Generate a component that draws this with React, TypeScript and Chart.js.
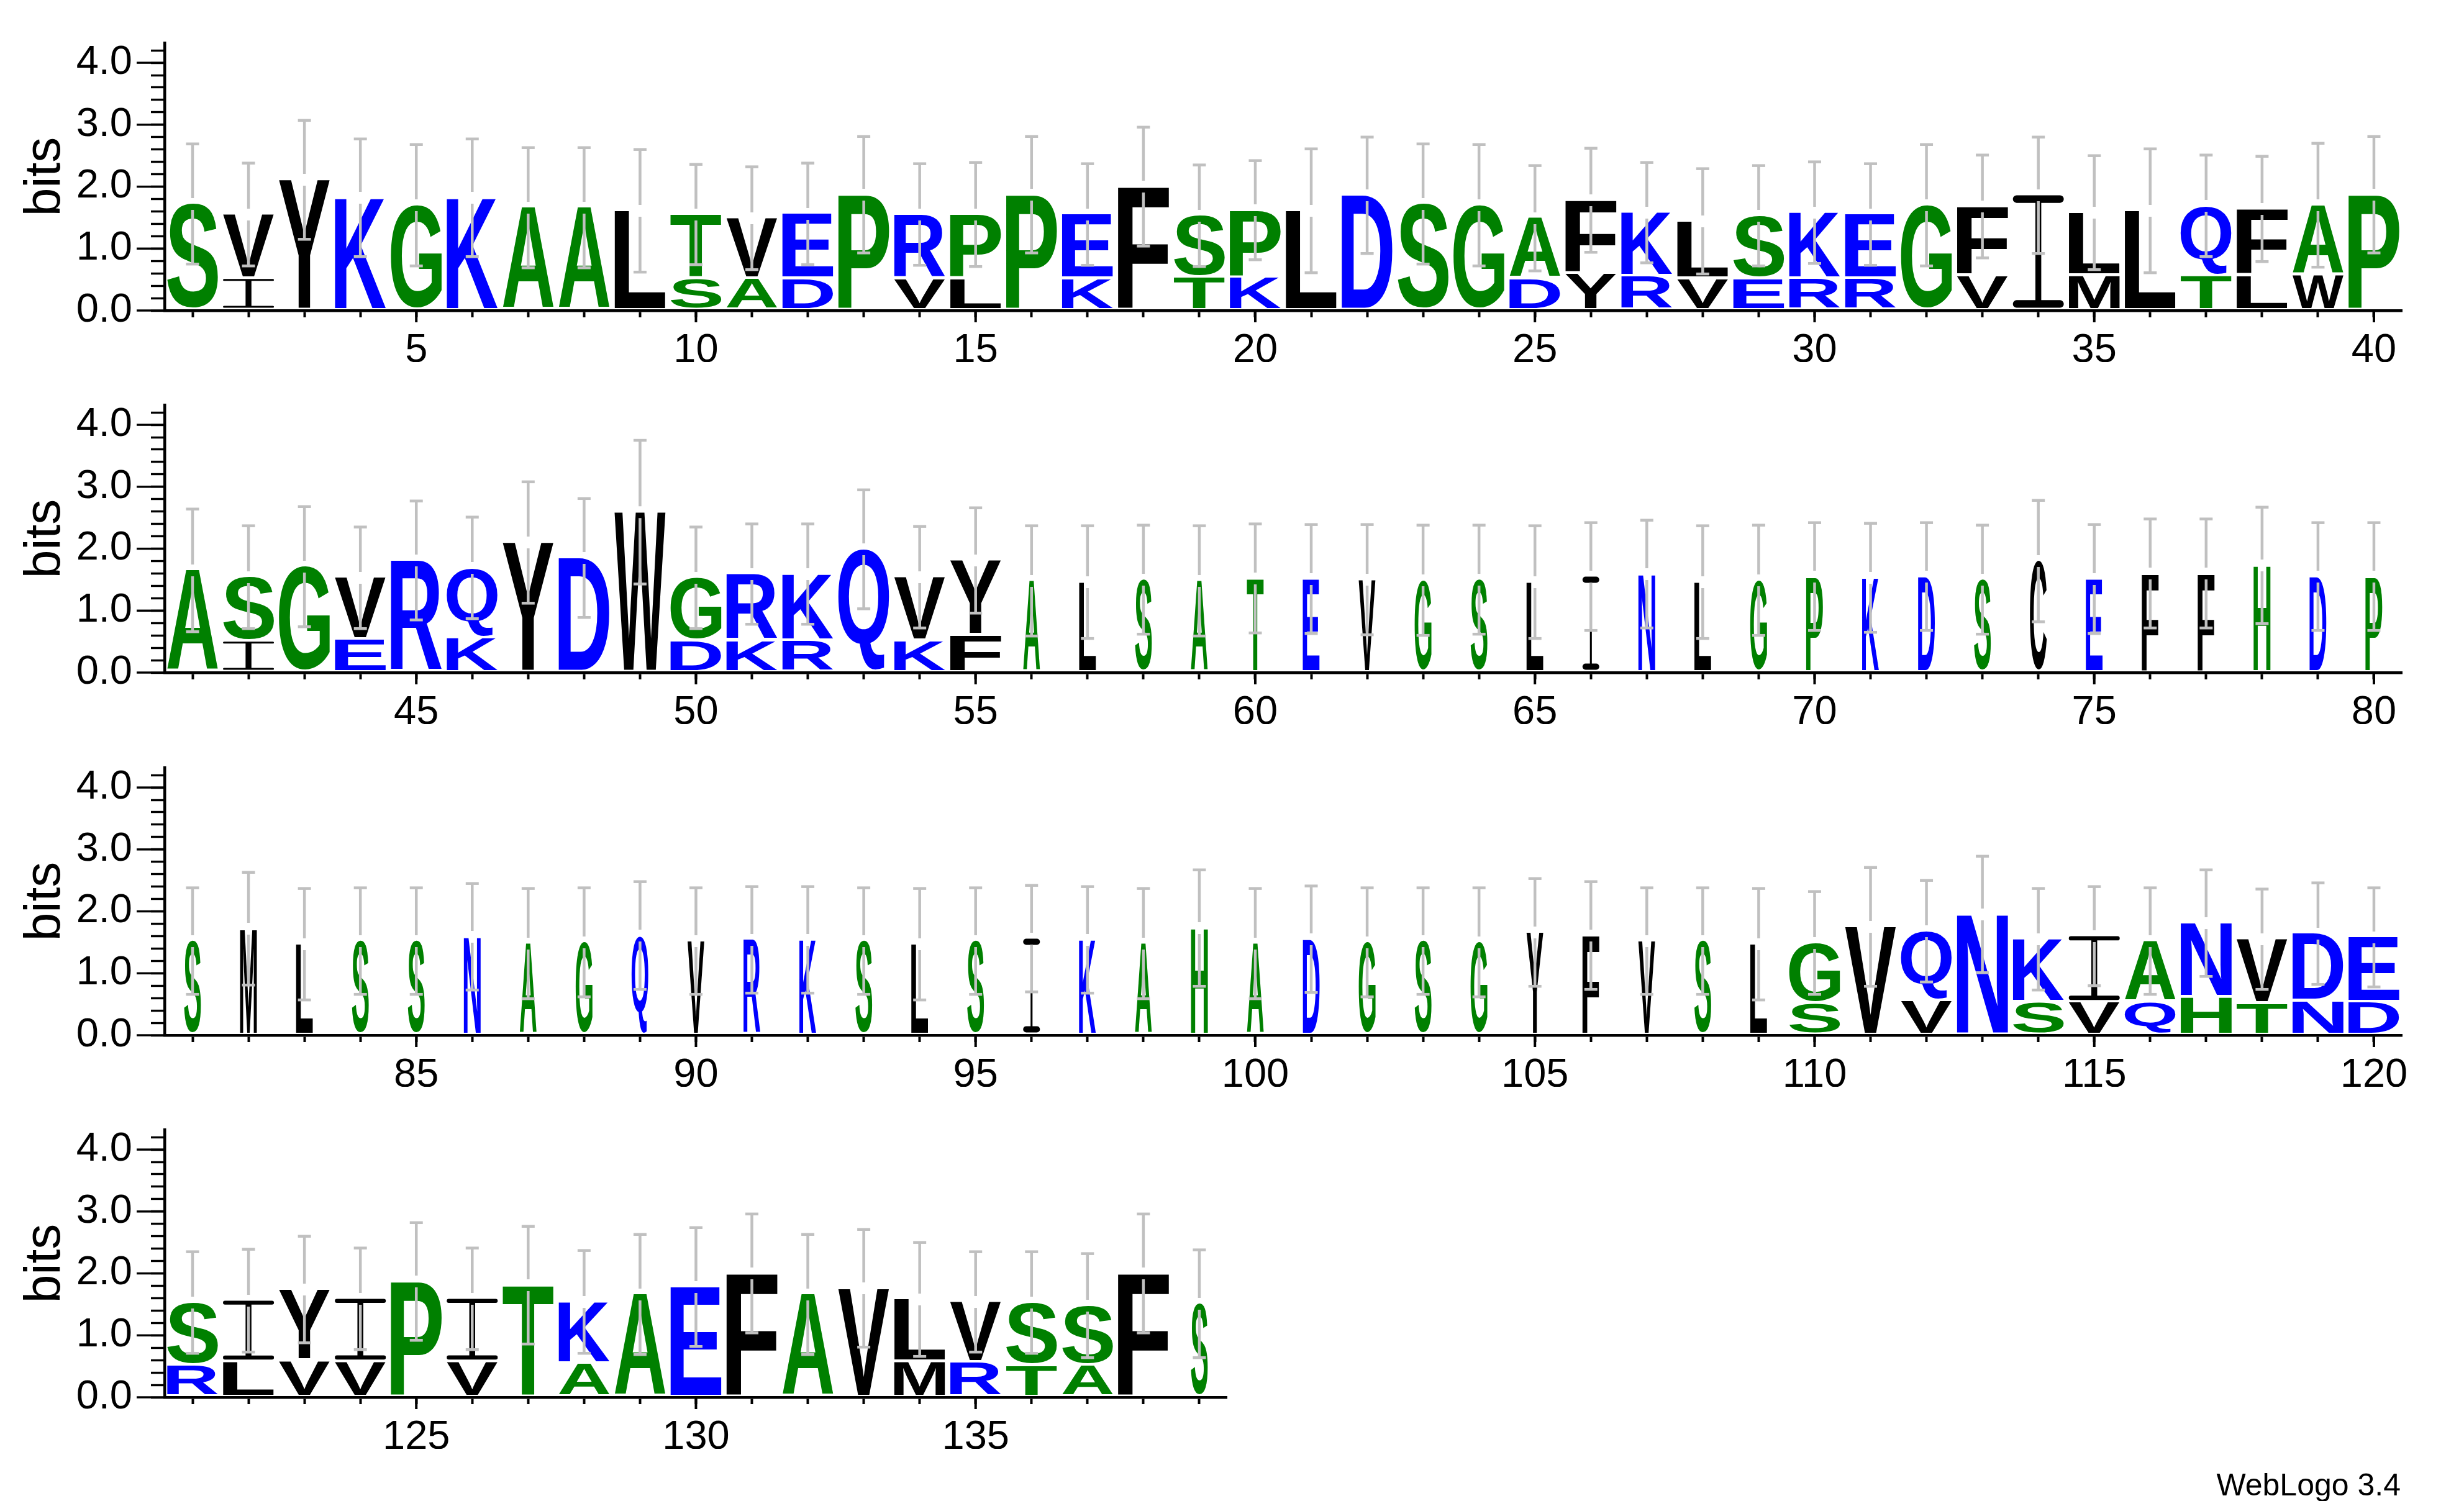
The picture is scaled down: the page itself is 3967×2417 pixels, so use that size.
import React, { useEffect, useRef } from "react";
import { Chart, registerables } from "chart.js";

Chart.register(...registerables);

// ---------------- DATA ----------------
// Rows of the logo (sequence positions)
const rowStarts = [1, 41, 81, 121];
const rowEnds = [40, 80, 120, 139];

// Top letter of each stack (one char per position)
const upperLetters =
  "SVYKGKAALTVEPRPPEFSPLDSGAFKLSKEGFILLQFAP" +
  "ASGVRQYDWGRKQVYALSATEVGSLINLGPKDSCEFFHDP" +
  "SMLSSNAGQVRKSLSIKAHADGSGYFVSLGVQNKIANVDE" +
  "SIYIPITKAEFAVLVSSFS";

// Lower letter of each stack ("." = none)
const lowerLetters =
  ".I.......SAD.VL.K.TK....DYRVERR.V.M.TLW." +
  ".I.E.K...DKR.KF........................." +
  ".............................S.V.SVQHTND" +
  "RLVV.V.A.....MRTA..";

// Height (bits) of the lower letter
const lowerBits = [
  0, 0.51, 0, 0, 0, 0, 0, 0, 0, 0.51,
  0.51, 0.51, 0, 0.51, 0.51, 0, 0.51, 0, 0.53, 0.53,
  0, 0, 0, 0, 0.51, 0.6, 0.55, 0.51, 0.51, 0.51,
  0.51, 0, 0.56, 0, 0.56, 0, 0.56, 0.56, 0.57, 0,
  0, 0.5, 0, 0.53, 0, 0.56, 0, 0, 0, 0.51,
  0.51, 0.51, 0, 0.51, 0.6, 0, 0, 0, 0, 0,
  0, 0, 0, 0, 0, 0, 0, 0, 0, 0,
  0, 0, 0, 0, 0, 0, 0, 0, 0, 0,
  0, 0, 0, 0, 0, 0, 0, 0, 0, 0,
  0, 0, 0, 0, 0, 0, 0, 0, 0, 0,
  0, 0, 0, 0, 0, 0, 0, 0, 0, 0.51,
  0, 0.56, 0, 0.53, 0.53, 0.53, 0.61, 0.51, 0.55, 0.53,
  0.51, 0.57, 0.59, 0.57, 0, 0.57, 0, 0.54, 0, 0,
  0, 0, 0, 0.57, 0.56, 0.51, 0.51, 0, 0,
];

// Total stack height (bits)
const stackBits = [
  1.72, 1.55, 2.11, 1.82, 1.7, 1.82, 1.66, 1.66, 1.61, 1.55,
  1.49, 1.56, 1.87, 1.55, 1.55, 1.87, 1.55, 2.0, 1.53, 1.62,
  1.61, 1.86, 1.72, 1.7, 1.49, 1.78, 1.58, 1.44, 1.53, 1.58,
  1.55, 1.7, 1.68, 1.86, 1.58, 1.61, 1.69, 1.64, 1.7, 1.87,
  1.65, 1.54, 1.71, 1.53, 1.81, 1.69, 2.1, 1.85, 2.59, 1.53,
  1.59, 1.59, 1.99, 1.54, 1.81, 1.48, 1.46, 1.5, 1.48, 1.52,
  1.51, 1.5, 1.49, 1.5, 1.46, 1.55, 1.59, 1.46, 1.49, 1.55,
  1.53, 1.55, 1.5, 1.8, 1.51, 1.6, 1.6, 1.73, 1.55, 1.55,
  1.52, 1.72, 1.47, 1.52, 1.52, 1.59, 1.48, 1.5, 1.61, 1.52,
  1.54, 1.54, 1.52, 1.47, 1.52, 1.56, 1.54, 1.48, 1.73, 1.48,
  1.55, 1.5, 1.52, 1.5, 1.66, 1.61, 1.52, 1.52, 1.47, 1.49,
  1.75, 1.68, 1.95, 1.55, 1.6, 1.52, 1.81, 1.55, 1.64, 1.58,
  1.53, 1.56, 1.74, 1.59, 1.87, 1.59, 1.81, 1.54, 1.66, 1.78,
  2.0, 1.66, 1.76, 1.58, 1.54, 1.53, 1.48, 2.0, 1.51,
];

// Error bar half-size (bits)
const errorBits = [
  0.97, 0.83, 0.96, 0.95, 0.98, 0.95, 0.97, 0.97, 0.99, 0.81,
  0.83, 0.82, 0.94, 0.82, 0.84, 0.94, 0.82, 0.96, 0.82, 0.8,
  1.0, 0.94, 0.97, 0.98, 0.85, 0.84, 0.81, 0.85, 0.81, 0.82,
  0.82, 0.98, 0.83, 0.94, 0.92, 1.0, 0.82, 0.85, 1.0, 0.94,
  0.99, 0.83, 0.97, 0.82, 0.96, 0.82, 0.98, 0.96, 1.16, 0.82,
  0.81, 0.81, 0.96, 0.82, 0.85, 0.89, 0.91, 0.88, 0.89, 0.88,
  0.88, 0.89, 0.89, 0.88, 0.91, 0.87, 0.87, 0.91, 0.89, 0.87,
  0.88, 0.87, 0.88, 0.98, 0.88, 0.88, 0.88, 0.94, 0.87, 0.87,
  0.86, 0.91, 0.9, 0.86, 0.86, 0.86, 0.89, 0.88, 0.87, 0.86,
  0.86, 0.86, 0.86, 0.9, 0.86, 0.86, 0.86, 0.89, 0.94, 0.89,
  0.86, 0.88, 0.86, 0.88, 0.87, 0.87, 0.86, 0.86, 0.9, 0.83,
  0.96, 0.82, 0.94, 0.82, 0.8, 0.86, 0.86, 0.81, 0.82, 0.8,
  0.82, 0.83, 0.86, 0.82, 0.95, 0.82, 0.95, 0.83, 0.97, 0.96,
  0.96, 0.97, 0.95, 0.92, 0.81, 0.82, 0.84, 0.96, 0.87,
];

// Fraction of sequences occupying each position (stack width)
const occupancy = [
  1, 1, 1, 1, 1, 1, 1, 1, 1, 1,
  1, 1, 1, 1, 1, 1, 1, 1, 1, 1,
  1, 1, 1, 1, 1, 1, 1, 1, 1, 1,
  1, 1, 1, 1, 1, 1, 1, 1, 1, 1,
  1, 1, 1, 1, 1, 1, 1, 1, 1, 1,
  1, 1, 1, 1, 1, 0.33, 0.33, 0.33, 0.33, 0.33,
  0.33, 0.33, 0.33, 0.33, 0.33, 0.33, 0.33, 0.33, 0.33, 0.33,
  0.33, 0.33, 0.33, 0.33, 0.33, 0.33, 0.33, 0.33, 0.33, 0.33,
  0.33, 0.33, 0.33, 0.33, 0.33, 0.33, 0.33, 0.33, 0.33, 0.33,
  0.33, 0.33, 0.33, 0.33, 0.33, 0.33, 0.33, 0.33, 0.33, 0.33,
  0.33, 0.33, 0.33, 0.33, 0.33, 0.33, 0.33, 0.33, 0.33, 1,
  1, 1, 1, 1, 1, 1, 1, 1, 1, 1,
  1, 1, 1, 1, 1, 1, 1, 1, 1, 1,
  1, 1, 1, 1, 1, 1, 1, 1, 0.33,
];

const yTickValues = [0, 0.2, 0.4, 0.6, 0.8, 1, 1.2, 1.4, 1.6, 1.8, 2, 2.2, 2.4, 2.6, 2.8, 3, 3.2, 3.4, 3.6, 3.8, 4, 4.2];
const yMajorTicks = [0, 1, 2, 3, 4];
const yMax = 4.3219;

// Hydrophobicity colour scheme
const blueSet = "RKDENQ";
const greenSet = "SGHTAP";

// ---------------- LAYOUT ----------------
const ROW_TOPS = [0, 583, 1167, 1750];
const ROW_H = 583;
const Y_AXIS_W = 265;
const TOP_PAD = 50;
const X_AXIS_H = 83;
const SPACING = 90.05;
const FONT = '"Liberation Sans", Arial, Helvetica, sans-serif';
const GLYPH_FONT = 'bold 200px "Liberation Sans", Arial, Helvetica, sans-serif';
const LETTER_GAP = 4;

function colorOf(ch: string) {
  if (blueSet.includes(ch)) return "#0000ff";
  if (greenSet.includes(ch)) return "#008000";
  return "#000000";
}

const glyphCache: Record<string, { l: number; r: number; a: number; d: number }> = {};
function glyphBox(ctx: CanvasRenderingContext2D, ch: string) {
  if (!glyphCache[ch]) {
    ctx.save();
    ctx.font = GLYPH_FONT;
    ctx.textAlign = "left";
    ctx.textBaseline = "alphabetic";
    const m = ctx.measureText(ch);
    glyphCache[ch] = {
      l: m.actualBoundingBoxLeft,
      r: m.actualBoundingBoxRight,
      a: m.actualBoundingBoxAscent,
      d: m.actualBoundingBoxDescent,
    };
    ctx.restore();
  }
  return glyphCache[ch];
}

function drawLetter(ctx: CanvasRenderingContext2D, ch: string, x0: number, y0: number, w: number, h: number, color: string) {
  if (h <= 0.5 || w <= 0) return;
  ctx.save();
  ctx.fillStyle = color;
  if (ch === "I") {
    const t = Math.max(1.5, h * 0.067);
    const sw = Math.max(1.5, w * 0.115);
    ctx.fillRect(x0 + w / 2 - sw / 2, y0 + t / 2, sw, h - t);
    ctx.beginPath();
    ctx.roundRect(x0, y0, w, t, t / 2);
    ctx.roundRect(x0, y0 + h - t, w, t, t / 2);
    ctx.fill();
    ctx.restore();
    return;
  }
  const g = glyphBox(ctx, ch);
  ctx.font = GLYPH_FONT;
  ctx.textAlign = "left";
  ctx.textBaseline = "alphabetic";
  ctx.translate(x0, y0);
  ctx.scale(w / (g.l + g.r), h / (g.a + g.d));
  ctx.fillText(ch, g.l, g.a);
  ctx.restore();
}

function makeConfig(row: number, canvasW: number): any {
  const s = rowStarts[row] - 1;
  const e = rowEnds[row];
  const labels: string[] = [];
  for (let p = rowStarts[row]; p <= rowEnds[row]; p++) labels.push(String(p));
  const lower = lowerBits.slice(s, e);
  const totals = stackBits.slice(s, e);
  const upper = totals.map((t, i) => +(t - lower[i]).toFixed(3));
  const errs = errorBits.slice(s, e);
  const occ = occupancy.slice(s, e);
  const lowStr = lowerLetters.slice(s, e);
  const upStr = upperLetters.slice(s, e);
  const n = e - s;
  const rightPad = canvasW - (Y_AXIS_W + SPACING * n);

  const logoPlugin = {
    id: "logoLetters" + row,
    afterDatasetsDraw(chart: any) {
      const ctx: CanvasRenderingContext2D = chart.ctx;
      const xs = chart.scales.x;
      const ys = chart.scales.y;
      for (let d = 0; d < 2; d++) {
        const meta = chart.getDatasetMeta(d);
        const letters = d === 0 ? lowStr : upStr;
        meta.data.forEach((el: any, i: number) => {
          const ch = letters[i];
          if (!ch || ch === ".") return;
          const p = el.getProps(["x", "y", "base", "width"], true);
          const w = p.width * occ[i];
          const top = Math.min(p.y, p.base);
          const bottom = Math.max(p.y, p.base) - LETTER_GAP;
          drawLetter(ctx, ch, p.x - w / 2, top, w, bottom - top, colorOf(ch));
        });
      }
      // error bars
      ctx.save();
      ctx.strokeStyle = "#c0c0c0";
      ctx.fillStyle = "#c0c0c0";
      ctx.lineWidth = 4.5;
      ctx.lineCap = "butt";
      const g = 9.5;
      for (let i = 0; i < n; i++) {
        const cx = xs.getPixelForValue(i);
        const yc = ys.getPixelForValue(totals[i]);
        const yt = ys.getPixelForValue(totals[i] + errs[i]);
        const yb = ys.getPixelForValue(Math.max(0, totals[i] - errs[i]));
        ctx.beginPath();
        ctx.moveTo(cx, yt);
        ctx.lineTo(cx, yc - g);
        ctx.moveTo(cx, yc + g);
        ctx.lineTo(cx, yb);
        ctx.stroke();
        ctx.fillRect(cx - 10.5, yt - 2.25, 21, 4.5);
        ctx.fillRect(cx - 10.5, yb - 2.25, 21, 4.5);
      }
      ctx.restore();
    },
    afterDraw(chart: any) {
      const ctx: CanvasRenderingContext2D = chart.ctx;
      const xs = chart.scales.x;
      const ys = chart.scales.y;
      const area = chart.chartArea;
      ctx.save();
      ctx.fillStyle = "#000";
      // long x ticks at multiples of 5
      for (let i = 0; i < n; i++) {
        if (Number(labels[i]) % 5 === 0) {
          const cx = xs.getPixelForValue(i);
          ctx.fillRect(cx - 2, area.bottom, 4, 19);
        }
      }
      // long y ticks at integers
      yMajorTicks.forEach((v) => {
        const yy = ys.getPixelForValue(v);
        ctx.fillRect(area.left - 45, yy - 1.7, 45, 3.4);
      });
      ctx.restore();
    },
  };

  return {
    type: "bar",
    data: {
      labels,
      datasets: [
        { data: lower, backgroundColor: "rgba(0,0,0,0)", borderWidth: 0, categoryPercentage: 1, barPercentage: 0.911 },
        { data: upper, backgroundColor: "rgba(0,0,0,0)", borderWidth: 0, categoryPercentage: 1, barPercentage: 0.911 },
      ],
    },
    options: {
      responsive: false,
      maintainAspectRatio: false,
      animation: false,
      devicePixelRatio: 1,
      events: [],
      layout: { padding: { left: 0, top: TOP_PAD, right: rightPad, bottom: 0 } },
      plugins: { legend: { display: false }, tooltip: { enabled: false }, title: { display: false } },
      scales: {
        x: {
          stacked: true,
          offset: true,
          grid: {
            display: true,
            drawOnChartArea: false,
            drawTicks: true,
            tickLength: 11,
            tickWidth: 4,
            tickColor: "#000",
            offset: false,
          },
          border: { display: true, color: "#000", width: 4.5 },
          ticks: {
            autoSkip: false,
            maxRotation: 0,
            minRotation: 0,
            padding: 15,
            color: "#000",
            font: { family: FONT, size: 65 },
            callback: (_v: any, idx: number) => (Number(labels[idx]) % 5 === 0 ? labels[idx] : ""),
          },
          afterFit: (scale: any) => {
            scale.height = X_AXIS_H;
          },
        },
        y: {
          stacked: true,
          min: 0,
          max: yMax,
          grid: {
            display: true,
            drawOnChartArea: false,
            drawTicks: true,
            tickLength: 22,
            tickWidth: 3.4,
            tickColor: "#000",
          },
          border: { display: true, color: "#000", width: 4.5 },
          afterBuildTicks: (scale: any) => {
            scale.ticks = yTickValues.map((v) => ({ value: v }));
          },
          ticks: {
            autoSkip: false,
            padding: 30,
            color: "#000",
            font: { family: FONT, size: 65 },
            callback: (v: any) => (yMajorTicks.includes(Number(v)) ? Number(v).toFixed(1) : ""),
          },
          title: {
            display: true,
            text: "bits",
            color: "#000",
            font: { family: FONT, size: 82 },
            padding: { top: 24, bottom: 0 },
          },
          afterFit: (scale: any) => {
            scale.width = Y_AXIS_W;
          },
        },
      },
    },
    plugins: [logoPlugin],
  };
}

function LogoRow({ row }: { row: number }) {
  const ref = useRef<HTMLCanvasElement>(null);
  const canvasW = row === 3 ? 2000 : 3967;
  useEffect(() => {
    if (!ref.current) return;
    const chart = new Chart(ref.current, makeConfig(row, canvasW));
    return () => chart.destroy();
  }, [row, canvasW]);
  return (
    <canvas
      ref={ref}
      width={canvasW}
      height={ROW_H}
      style={{ position: "absolute", left: 0, top: ROW_TOPS[row], width: canvasW, height: ROW_H }}
    />
  );
}

export default function App() {
  return (
    <div
      style={{
        position: "absolute",
        left: 0,
        top: 0,
        width: 3967,
        height: 2417,
        background: "#fff",
        overflow: "hidden",
      }}
    >
      {[0, 1, 2, 3].map((r) => (
        <LogoRow key={r} row={r} />
      ))}
      <div
        style={{
          position: "absolute",
          left: 0,
          top: 2366,
          width: 3865,
          textAlign: "right",
          fontFamily: FONT,
          fontSize: 50,
          lineHeight: "50px",
          color: "#000",
        }}
      >
        WebLogo 3.4
      </div>
    </div>
  );
}
